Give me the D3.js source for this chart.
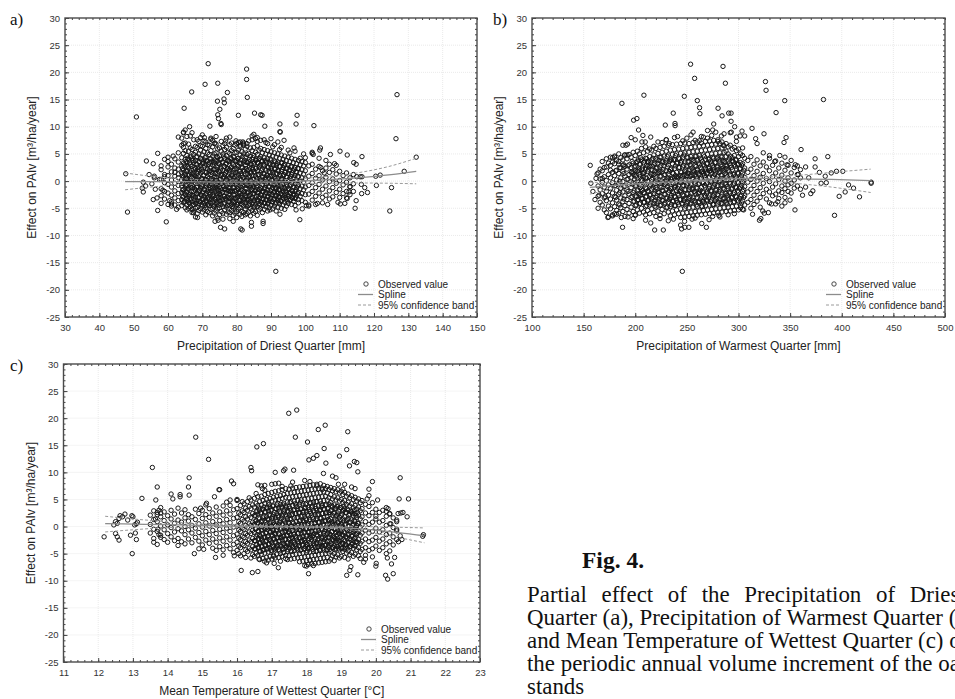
<!DOCTYPE html>
<html>
<head>
<meta charset="utf-8">
<script src="https://cdn.jsdelivr.net/npm/d3@7"></script>
<style>
  body { margin: 0; background: #fff; }
  svg { display: block; }
</style>
</head>
<body>
<svg id="fig" width="955" height="699"></svg>
<script>
// ---- shared axis values ----
const yTicks = [-25, -20, -15, -10, -5, 0, 5, 10, 15, 20, 25, 30];
const driestTicks = [30, 40, 50, 60, 70, 80, 90, 100, 110, 120, 130, 140, 150];
const warmestTicks = [100, 150, 200, 250, 300, 350, 400, 450, 500];
const wettestTicks = [11, 12, 13, 14, 15, 16, 17, 18, 19, 20, 21, 22, 23];
const legendLabels = ['Observed value', 'Spline', '95% confidence band'];
const yTitle = 'Effect on PAIv [m³/ha/year]';

// ---- a) Precipitation of Driest Quarter ----
const driestObs = [[47.7,1.35],[48.2,-5.7],[50.8,11.8],[53.7,3.7],[52.8,-0.2],[52.8,-2.0],[53.5,-0.9],[55.7,3.2],[56,0.9],[56,0.6],[55.7,-3.4],[56.3,-1.5],[57,5.1],[57,-5.4],[56.8,-3.1],[59.5,-7.5],[60,3.6],[61.5,4.6],[63,8.1],[64.7,13.4],[64.5,9.0],[65,9.4],[66.3,10],[66.9,16.4],[70.6,8],[70.8,17.8],[71.7,21.6],[72.2,10.1],[74.5,18.0],[74.4,14.7],[75.1,13.2],[74.5,12.2],[74.7,11.5],[75.4,10.6],[75.5,10.4],[76.3,15.1],[76.4,14.4],[77.3,16.3],[78,8.1],[80.5,12.1],[82.9,20.6],[82.9,18.7],[83.1,15.4],[85.2,12.5],[87,12.2],[87.4,12.1],[88.2,10.1],[92.6,9.1],[92.7,9.0],[92.6,10.5],[93.8,7.5],[96.7,6.1],[97.6,12.1],[97.3,10.5],[102.5,10.2],[98.4,-7.1],[91.4,-16.6],[87.7,-7.4],[87.7,-7.8],[81.2,-8.8],[81.6,-9.0],[79,-7.4],[76.5,-8.8],[75.3,-8.5],[73.7,-7.4],[74.6,-7.2],[67.4,-5.8],[68.6,-6.7],[84.3,-8.3],[84.3,-7.6],[89.7,-5.3],[92.6,-6.1],[97.3,-5.3],[99.1,-5.1],[104.4,6.1],[107.3,4.9],[110.1,5.5],[112.2,4.8],[116.5,4.5],[114.1,3.4],[114.8,3.1],[110.2,-4.2],[111.5,-4.1],[114.5,-5.0],[114.8,-3.6],[118.1,-2.1],[120.7,-0.8],[121.8,1.1],[120.5,0.9],[124.6,-5.5],[125.1,-1.2],[126.4,7.8],[126.7,15.9],[128.8,1.8],[132.3,4.4],[116.3,-0.6],[117.3,-1.2],[116.4,-2.3],[115,0.8],[116,0.8],[116.5,0.8],[113,-1.1],[112.7,-2.0],[112.2,-3.2],[104.2,5.7],[102,5.3],[102.3,4.9],[104.5,2.5],[105.5,1.5],[108.5,3.2],[109.5,-3.9],[106.5,-4.3],[103.5,-4.1],[101,-4.6],[100.3,-4.5],[100,4.3],[62.5,-5.2],[61,-4.2],[60.5,-3.6],[58.5,-1.7],[57.5,0.3],[58,2.8],[59,4.0],[55.3,-0.5],[54.5,1.2],[52.5,-1.3],[81.8,7.2],[83,6.9],[84.5,7.6],[86,7.3],[88.5,7.1],[90.5,6.3],[95.5,5.2],[99.5,5.0],[98.5,4.2],[67,8.9],[68.5,7.6],[69.5,8.0],[72.5,7.9],[73.7,7.0],[76.8,7.4],[79.8,7.4],[81,6.6]];
const driestCore = [
  [58,[2.1,0.3,-1.4,-2.7,-4.1]],[59,[1.2,-0.3,-1.9,-3.3,0.8]],[60,[2.6,1.0,-0.6,-2.2,-4.3,4.4]],[61,[3.1,1.7,0.2,-1.1,-2.6,-3.8,-4.6]],
  [62,[2.4,0.9,-0.4,-1.8,-3.1,1.6,4.1,-4.4]],[63,[3.5,2.2,0.6,-0.8,-2.3,-3.6,5.2,1.3,-4.8]],
  [64,[4.3,2.8,1.5,0.2,-0.9,-2.1,-3.4,-4.5,7.9,6.6]],[64.5,[5.1,3.3,2.0,0.7,-0.5,-1.6,-2.9,-4.0,8.9,6.9,6.2]],
  [65,[4.0,2.6,1.1,-0.2,-1.3,-2.5,-3.7,-4.9,7.0,5.6]],[65.5,[4.7,3.4,1.8,0.5,-0.8,-2.0,-3.2,-4.4,-5.3,8.2]],
  [66,[5.5,3.9,2.4,1.0,-0.3,-1.5,-2.8,-3.9,-5.0,6.8]],[66.5,[4.4,3.0,1.6,0.1,-1.1,-2.4,-3.5,-4.7,8.3,6.1]],
  [67,[5.8,4.1,2.7,1.3,-0.1,-1.2,-2.6,-3.8,-5.2,-5.8]],[67.5,[4.9,3.5,2.1,0.6,-0.6,-1.9,-3.1,-4.3,-5.5,7.6]],
  [68,[5.3,3.8,2.3,0.9,-0.4,-1.7,-2.9,-4.1,-5.0,-6.6,6.4]],[68.5,[6.2,4.5,3.0,1.4,0.2,-1.0,-2.3,-3.6,-4.8,-6.0]],
  [69,[5.0,3.6,2.2,0.8,-0.5,-1.8,-3.0,-4.2,-5.4,7.3]],[69.5,[5.7,4.2,2.9,1.5,0.0,-1.3,-2.5,-3.8,-5.1,6.5]],
  [70,[6.4,4.8,3.2,1.7,0.4,-0.9,-2.2,-3.4,-4.6,-5.7,8.5]],[70.5,[5.4,3.9,2.5,1.1,-0.2,-1.5,-2.7,-4.0,-5.3,7.4]],
  [71,[6.0,4.4,3.1,1.6,0.3,-1.0,-2.4,-3.6,-4.9,-6.2,7.2]],[71.5,[5.2,3.7,2.2,0.8,-0.6,-1.9,-3.2,-4.4,-5.6,6.7]],
  [72,[6.6,4.9,3.4,1.9,0.5,-0.8,-2.1,-3.3,-4.5,-5.8]],[72.5,[5.6,4.1,2.6,1.2,-0.1,-1.4,-2.8,-4.1,-5.2,7.7]],
  [73,[6.3,4.6,3.0,1.5,0.2,-1.1,-2.5,-3.7,-5.0,-6.4,7.5]],[73.5,[5.0,3.5,2.1,0.7,-0.7,-2.0,-3.3,-4.6,-5.9,6.9]],
  [74,[6.8,5.2,3.7,2.2,0.8,-0.5,-1.8,-3.0,-4.3,-5.5,8.2]],[74.5,[5.9,4.3,2.8,1.3,-0.1,-1.3,-2.6,-3.9,-5.1,-6.8]],
  [75,[6.1,4.6,3.1,1.6,0.3,-1.0,-2.3,-3.6,-4.9,-6.2]],[75.5,[5.5,4.0,2.4,1.0,-0.4,-1.7,-3.0,-4.3,-5.6,7.3]],
  [76,[6.5,5.0,3.5,2.0,0.6,-0.8,-2.1,-3.4,-4.7,-5.9,-7.0]],[76.5,[5.8,4.2,2.7,1.2,-0.2,-1.5,-2.8,-4.0,-5.3,6.9]],
  [77,[6.2,4.7,3.2,1.8,0.4,-0.9,-2.2,-3.5,-4.8,-6.1,7.9]],[77.5,[5.3,3.8,2.3,0.9,-0.5,-1.8,-3.1,-4.4,-5.7]],
  [78,[6.7,5.1,3.6,2.1,0.7,-0.6,-1.9,-3.2,-4.5,-5.8,-6.9]],[78.5,[5.6,4.1,2.6,1.1,-0.3,-1.6,-2.9,-4.2,-5.4,7.0]],
  [79,[6.0,4.5,3.0,1.5,0.1,-1.2,-2.5,-3.8,-5.0,-6.3]],[79.5,[5.2,3.7,2.2,0.8,-0.6,-1.9,-3.2,-4.6,-5.9,6.6]],
  [80,[6.9,5.3,3.8,2.3,0.9,-0.4,-1.7,-3.0,-4.3,-5.6,-6.7]],[80.5,[5.7,4.2,2.7,1.3,-0.1,-1.4,-2.7,-4.0,-5.2,7.1]],
  [81,[6.3,4.8,3.3,1.8,0.4,-0.9,-2.3,-3.6,-4.9,-6.1,7.2]],[81.5,[5.4,3.9,2.4,1.0,-0.4,-1.7,-3.0,-4.3,-5.6,-6.5]],
  [82,[6.6,5.0,3.5,2.0,0.6,-0.7,-2.0,-3.3,-4.6,-5.8,7.0,6.8]],[82.5,[5.9,4.4,2.9,1.4,0.0,-1.3,-2.6,-3.9,-5.1,-6.2]],
  [83,[6.4,4.9,3.4,1.9,0.5,-0.8,-2.1,-3.4,-4.7,-6.0]],[83.5,[5.1,3.6,2.1,0.7,-0.7,-2.0,-3.3,-4.5,-5.7,7.4]],
  [84,[6.1,4.6,3.1,1.6,0.2,-1.1,-2.4,-3.7,-5.0,-6.4]],[84.5,[5.6,4.0,2.5,1.1,-0.3,-1.6,-2.9,-4.2,-5.4,8.3]],
  [85,[6.2,4.7,3.2,1.7,0.3,-1.0,-2.3,-3.6,-4.8,-5.9,8.6]],[85.5,[5.3,3.8,2.3,0.9,-0.5,-1.8,-3.1,-4.4,-5.6,7.8]],
  [86,[6.5,4.9,3.4,1.9,0.5,-0.8,-2.1,-3.4,-4.7,-6.3,8.0]],[86.5,[5.7,4.1,2.6,1.2,-0.2,-1.5,-2.8,-4.1,-5.3]],
  [87,[6.0,4.5,3.0,1.5,0.1,-1.2,-2.5,-3.8,-5.0,7.5]],[87.5,[5.2,3.7,2.2,0.8,-0.6,-1.9,-3.2,-4.5,-5.8]],
  [88,[5.8,4.3,2.8,1.3,-0.1,-1.4,-2.7,-4.0,-5.2,7.6]],[88.5,[5.0,3.5,2.0,0.6,-0.8,-2.1,-3.4,-4.7]],
  [89,[5.6,4.1,2.6,1.1,-0.3,-1.6,-2.9,-4.2,-5.5,6.9]],[89.5,[4.8,3.3,1.8,0.4,-1.0,-2.3,-3.6,-4.9]],
  [90,[5.4,3.9,2.4,0.9,-0.5,-1.8,-3.1,-4.4,7.8]],[90.5,[4.6,3.1,1.6,0.2,-1.2,-2.5,-3.8,-5.1]],
  [91,[5.2,3.7,2.2,0.7,-0.7,-2.0,-3.3,-4.6,6.7]],[91.5,[4.4,2.9,1.4,0.0,-1.4,-2.7,-4.0,-5.5]],
  [92,[5.0,3.5,2.0,0.5,-0.9,-2.2,-3.5,-4.8,7.2]],[92.5,[4.2,2.7,1.2,-0.2,-1.6,-2.9,-4.2,5.8]],
  [93,[4.8,3.3,1.8,0.3,-1.1,-2.4,-3.7,-5.0,6.2]],[93.5,[4.0,2.5,1.0,-0.4,-1.8,-3.1,-4.4]],
  [94,[4.6,3.1,1.6,0.1,-1.3,-2.6,-3.9,-5.2]],[94.5,[3.8,2.3,0.8,-0.6,-2.0,-3.3,-4.6]],
  [95,[4.4,2.9,1.4,-0.1,-1.5,-2.8,-4.1,5.7]],[95.5,[3.6,2.1,0.6,-0.8,-2.2,-3.5]],
  [96,[4.2,2.7,1.2,-0.3,-1.7,-3.0,-4.3]],[96.5,[3.4,1.9,0.4,-1.0,-2.4,-3.7]],
  [97,[4.0,2.5,1.0,-0.5,-1.9,-3.2,-4.5,5.5]],[97.5,[3.2,1.7,0.2,-1.2,-2.6]],
  [98,[3.8,2.3,0.8,-0.7,-2.1,-3.4,-4.0]],[98.5,[3.0,1.5,0.0,-1.4,-2.8]],
  [99,[3.6,2.1,0.6,-0.9,-2.3,-3.6]],[99.5,[2.8,1.3,-0.2,-1.6]],[100,[3.4,1.9,0.4,-1.1,-2.5,-3.9]],
  [101,[2.8,0.9,-0.8,-2.4,-4.4]],[102,[3.1,1.4,-0.3,-1.9,-3.5,5.1]],[103,[2.2,0.5,-1.2,-2.8,-4.3]],
  [104,[2.7,1.0,-0.6,-2.2,4.2]],[105,[1.9,0.2,-1.5,-3.0,-4.0]],[106,[2.4,0.7,-0.9,-2.6,3.8]],
  [107,[1.6,-0.1,-1.8,-3.3,3.1]],[108,[2.1,0.4,-1.2,-2.9]],[109,[1.3,-0.4,-2.1,2.9]],
  [110,[1.8,0.1,-1.5,-3.0]],[111,[1.0,-0.7,-2.3]],[112,[1.5,-0.2,-1.9,-3.1]],[113,[0.6,-1.0,-2.5]],[114,[1.2,-0.5,-1.9]]
];
const driestInner = [
  [64.25,[2.3,-0.4,-2.9,0.9,-1.6]],[64.75,[3.0,0.4,-2.2,-3.8,1.6]],[65.25,[1.9,-0.9,-3.3,0.6,-2.0,3.6]],[65.75,[2.7,0.1,-1.3,-3.6,4.2]],
  [66.25,[3.4,1.2,-0.6,-2.5,-4.1]],[66.75,[2.0,-0.2,-1.9,-3.2,0.8,4.6]],[67.25,[3.8,1.5,-0.9,-2.7,-4.4]],[67.75,[2.5,0.3,-1.4,-3.5,1.1]],
  [68.25,[3.1,0.7,-1.1,-2.3,-4.0,4.4]],[68.75,[1.8,-0.4,-2.0,-3.0,2.6]],[69.25,[3.5,1.9,-0.2,-1.7,-3.8]],[69.75,[2.2,0.5,-1.0,-2.6,-4.3,3.9]],
  [70.25,[3.3,1.0,-0.7,-2.0,-3.4]],[70.75,[2.8,0.2,-1.6,-3.1,-4.5,4.3]],[71.25,[1.6,-0.5,-2.3,-3.7,3.7]],[71.75,[3.0,1.3,-0.3,-1.5,-2.9,-4.2]],
  [72.25,[2.4,0.0,-1.2,-2.4,-3.9,4.1]],[72.75,[3.6,1.7,0.4,-1.8,-3.3]],[73.25,[2.1,-0.3,-1.5,-2.8,-4.6,3.4]],[73.75,[3.9,1.4,0.1,-1.1,-3.4]],
  [74.25,[2.6,0.6,-0.8,-2.2,-4.0,4.5]],[74.75,[3.2,1.8,-0.2,-1.7,-3.0,-4.4]],[75.25,[2.0,0.3,-1.3,-2.6,-3.7,4.0]],[75.75,[3.5,1.2,-0.4,-2.1,-3.5]],
  [76.25,[2.7,0.8,-1.0,-2.7,-4.2,4.6]],[76.75,[3.1,1.5,0.0,-1.4,-3.2]],[77.25,[2.2,0.2,-1.6,-2.9,-4.5,3.8]],[77.75,[3.7,1.9,0.5,-1.2,-2.4,-3.8]],
  [78.25,[2.4,-0.1,-1.9,-3.3,4.2]],[78.75,[3.3,1.1,-0.5,-2.0,-3.6,-4.7]],[79.25,[2.0,0.6,-1.2,-2.5,-4.0,4.4]],[79.75,[3.6,1.6,-0.1,-1.6,-3.1]],
  [80.25,[2.9,0.4,-1.4,-2.9,-4.3,4.1]],[80.75,[1.8,-0.3,-2.1,-3.6,3.3]],[81.25,[3.2,1.4,0.2,-1.1,-2.6,-4.1]],[81.75,[2.5,0.7,-0.9,-2.4,-3.8,4.5]],
  [82.25,[3.8,1.8,-0.2,-1.9,-3.3]],[82.75,[2.3,0.1,-1.5,-3.0,-4.4,3.5]],[83.25,[3.4,1.3,-0.6,-2.2,-3.6]],[83.75,[2.6,0.9,-0.8,-2.7,-4.2,4.0]],
  [84.25,[3.0,1.5,0.0,-1.5,-3.2]],[84.75,[2.1,0.3,-1.3,-2.3,-3.9,4.3]],[85.25,[3.5,1.7,-0.4,-1.8,-3.5,-4.6]],[85.75,[2.4,0.6,-1.1,-2.8,3.9]],
  [86.25,[3.3,1.2,-0.3,-2.0,-3.7]],[86.75,[2.8,0.5,-1.6,-3.1,-4.3,4.2]],[87.25,[1.9,-0.1,-1.4,-2.6,-3.9,3.6]],[87.75,[3.1,1.4,0.2,-1.9,-3.4]],
  [88.25,[2.2,0.4,-1.2,-2.4,-4.1,3.8]],[88.75,[3.4,1.0,-0.5,-2.2,-3.5]],[89.25,[2.5,0.7,-1.0,-2.8,-4.0]],[89.75,[3.0,1.6,-0.2,-1.7,-3.2,4.1]],
  [90.25,[2.0,0.2,-1.5,-2.5,-3.8]],[90.75,[2.9,1.1,-0.7,-2.1,-3.4]],[91.25,[2.3,0.5,-1.1,-2.7,-4.2,3.5]],[91.75,[3.2,1.3,-0.4,-1.9,-3.1]],
  [92.25,[1.8,0.0,-1.6,-2.9,-3.9]],[92.75,[2.7,0.9,-0.8,-2.3,-3.6]],[93.25,[2.1,0.4,-1.3,-2.6,3.4]],[93.75,[2.9,1.2,-0.5,-2.0,-3.3]],
  [94.25,[1.6,-0.2,-1.8,-3.0]],[94.75,[2.4,0.7,-1.0,-2.5,-3.7]],[95.25,[1.9,0.2,-1.4,-2.8]],[95.75,[2.6,0.9,-0.7,-2.2,-3.4]],
  [96.25,[1.5,-0.1,-1.9,-3.1]],[96.75,[2.2,0.6,-1.2,-2.6]],[97.25,[1.7,0.0,-1.6,-3.0]],[97.75,[2.3,0.8,-0.9,-2.3]]
];
const driestFitX = [47.5, 55, 65, 75, 85, 95, 105, 115, 125, 132.3];
const driestFitMid = [-0.1, -0.1, -0.1, -0.2, -0.2, -0.1, 0.2, 0.6, 1.2, 1.8];
const driestFitUp = [1.5, 0.9, 0.4, 0.2, 0.15, 0.3, 0.8, 1.5, 2.8, 4.2];
const driestFitLo = [-1.6, -1.1, -0.6, -0.55, -0.55, -0.5, -0.4, -0.35, -0.4, -0.5];

// ---- b) Precipitation of Warmest Quarter ----
const warmestObs = [[156.4,2.9],[157,-0.4],[161,-3.4],[168,0.5],[187.1,14.3],[187.7,-8.5],[173.5,-6.7],[178,-6.4],[182,-6.1],[186.5,-6.7],[189.7,4.8],[192,4.8],[188,6.6],[191,6.6],[192.5,6.8],[198.4,11.2],[201.6,11.5],[203.2,9.4],[208.4,15.8],[207.4,8.4],[206.5,7.2],[209.7,7.2],[218.8,-9.0],[227.2,-9.0],[229.1,10.3],[236.8,12.5],[238.5,10.6],[238.6,10.2],[253.6,21.5],[257.5,18.9],[247.5,15.6],[260.1,14.8],[262.3,13.5],[262.6,12.4],[243.9,-8.1],[244.9,-8.8],[248,-8.5],[251.9,-8.5],[247.8,-7.4],[245.6,-16.6],[264.4,-7.8],[268.9,-8.5],[271.5,-7.1],[276,10.5],[280.2,13.4],[283.4,8.3],[284.1,12.0],[285.3,6.6],[285,21.1],[287.3,18.0],[290.5,12.5],[292.8,12.5],[292.8,11.0],[296.3,10.0],[303.4,9.2],[301.5,8.3],[306,8.3],[313.1,9.7],[316.6,7.8],[318,6.9],[324.7,8.7],[326.1,18.3],[326.7,16.7],[336.4,12.6],[344.8,14.8],[346.1,8.0],[344.1,7.1],[360.6,5.8],[382.3,15.0],[386.5,4.5],[374.2,4.1],[374.2,2.6],[378.4,1.6],[389.8,1.5],[394.9,1.8],[401,1.8],[393,-6.3],[397.5,-2.8],[403.3,-2.0],[406.6,-0.7],[411.4,-1.3],[417.2,-2.9],[428.5,-0.2],[428.5,-0.4],[354.7,-5.3],[349.9,-3.5],[345,-4.0],[328.9,-5.8],[323.5,-5.5],[325,-5.9],[320.3,-7.2],[321.6,-6.9],[313.6,-6.1],[302,-4.9],[305,-5.3],[365,-1.1],[368,0.6],[372,-1.8],[380,-0.4],[385,-0.3],[384,0.9],[362,-2.6],[358,1.2],[355,3.0],[365,2.6],[370,-2.3],[340,4.7],[335,3.6],[330,4.7],[347,3.0],[338,-3.8],[342,-4.6],[332,-4.2],[215,8.1],[222,7.2],[230,7.6],[233,6.9],[196,8.0],[200,7.6],[241,8.2],[246,7.4],[254,8.5],[256,9.0],[264,8.2],[270,9.3],[275,9.4],[280,7.3],[293,9.0],[298,8.1],[210,-7.2],[215,-7.7],[224,-6.9],[232,-7.3],[237,-7.0],[255,-7.0],[258,-6.8],[275,-6.5],[281,-6.3],[290,-6.2],[296,-6.0],[198,-6.9],[193,-6.6],[200,-6.2],[162,0.5],[159,-1.9],[165,-2.6],[163,1.3],[171,-2.9],[176,2.0],[178,4.3],[180,4.4],[184,3.1],[185,-4.4]];
const warmestCore = [
  [164,[1.5,-0.9,-2.8,-5.0]],[166,[0.4,-1.6,2.2,-3.9]],[168,[1.9,-0.2,-2.3,-4.4,3.6]],[170,[0.8,-1.1,-3.1,2.5,-5.3]],
  [172,[2.6,0.1,-1.9,-3.6,-5.8,4.1]],[174,[1.2,-0.7,-2.6,-4.6,3.3,-6.6]],[176,[2.9,0.6,-1.4,-3.3,-5.1,4.4]],
  [178,[1.6,-0.3,-2.2,-4.0,3.5,-6.2]],[180,[3.2,1.0,-0.9,-2.8,-4.7,4.6,-6.0]],[182,[2.0,0.2,-1.7,-3.5,-5.4,3.9]],
  [184,[3.6,1.4,-0.5,-2.4,-4.2,-5.9,5.0]],[186,[2.4,0.6,-1.3,-3.1,-4.9,4.3]],[188,[3.9,1.8,-0.1,-2.0,-3.8,-5.6,2.9]],
  [190,[2.7,0.9,-0.9,-2.7,-4.5,4.8,-6.5]],[192,[4.1,2.2,0.3,-1.6,-3.4,-5.2]],[194,[3.0,1.2,-0.6,-2.4,-4.1,-5.9,4.9]],
  [196,[4.4,2.5,0.6,-1.2,-3.0,-4.8,1.6]],[198,[3.3,1.5,-0.3,-2.1,-3.8,-5.6,5.3]],[200,[4.7,2.8,0.9,-0.9,-2.7,-4.5,-6.3,1.9]],
  [202,[3.6,1.8,0.0,-1.8,-3.5,-5.3,5.5]],[204,[5.0,3.1,1.2,-0.6,-2.4,-4.2,-5.9,2.2]],[206,[3.9,2.1,0.3,-1.5,-3.2,-5.0,6.0]],
  [208,[5.2,3.4,1.5,-0.3,-2.1,-3.9,-5.7,0.7]],[210,[4.2,2.4,0.6,-1.2,-2.9,-4.7,-6.2,6.3]],[212,[5.5,3.6,1.8,0.0,-1.8,-3.6,-5.4,2.7]],
  [214,[4.5,2.7,0.9,-0.9,-2.6,-4.4,-6.0,5.9]],[216,[5.7,3.9,2.1,0.3,-1.5,-3.3,-5.1,1.2]],[218,[4.8,3.0,1.2,-0.6,-2.3,-4.1,-5.8,6.4]],
  [220,[6.0,4.2,2.4,0.6,-1.2,-3.0,-4.8,-6.5,1.5]],[222,[5.1,3.3,1.5,-0.3,-2.0,-3.8,-5.5]],[224,[6.2,4.4,2.6,0.9,-0.9,-2.7,-4.5,-6.3,1.8]],
  [226,[5.3,3.5,1.7,0.0,-1.7,-3.5,-5.2,7.1]],[228,[6.4,4.6,2.8,1.1,-0.6,-2.4,-4.2,-6.0,-0.1]],[230,[5.5,3.7,1.9,0.2,-1.5,-3.2,-4.9,7.6]],
  [232,[6.6,4.8,3.0,1.3,-0.4,-2.1,-3.9,-5.7,0.4]],[234,[5.7,3.9,2.1,0.4,-1.3,-3.0,-4.7,-6.4]],[236,[6.7,4.9,3.2,1.5,-0.2,-1.9,-3.7,-5.5,0.6]],
  [238,[5.8,4.0,2.3,0.6,-1.1,-2.8,-4.5,-6.2,8.0]],[240,[6.8,5.0,3.3,1.6,-0.1,-1.8,-3.5,-5.3,0.8]],[242,[5.9,4.2,2.5,0.8,-0.9,-2.6,-4.3,-6.0]],
  [244,[6.9,5.1,3.4,1.7,0.0,-1.7,-3.4,-5.1,-6.7,1.0]],[246,[6.0,4.3,2.6,0.9,-0.8,-2.5,-4.2,-5.9]],[248,[7.0,5.2,3.5,1.8,0.1,-1.6,-3.3,-5.0,-6.6,1.2]],
  [250,[6.1,4.4,2.7,1.0,-0.7,-2.4,-4.1,-5.8,7.9]],[252,[6.9,5.3,3.6,1.9,0.2,-1.5,-3.2,-4.9,-6.5,1.4]],[254,[6.2,4.5,2.8,1.1,-0.6,-2.3,-4.0,-5.7]],
  [256,[7.1,5.4,3.7,2.0,0.3,-1.4,-3.1,-4.8,-6.4,1.5]],[258,[6.3,4.6,2.9,1.2,-0.5,-2.2,-3.9,-5.6,7.5]],[260,[7.2,5.5,3.8,2.1,0.4,-1.3,-3.0,-4.7,-6.3,1.6]],
  [262,[6.4,4.7,3.0,1.3,-0.4,-2.1,-3.8,-5.5,7.4]],[264,[7.0,5.6,3.9,2.2,0.5,-1.2,-2.9,-4.6,-6.2,1.7]],[266,[6.5,4.8,3.1,1.4,-0.3,-2.0,-3.7,-5.4,8.1]],
  [268,[7.3,5.7,4.0,2.3,0.6,-1.1,-2.8,-4.5,-6.1,1.8]],[270,[6.6,4.9,3.2,1.5,-0.2,-1.9,-3.6,-5.3,7.9]],[272,[7.4,5.8,4.1,2.4,0.7,-1.0,-2.7,-4.4,-6.0,1.9]],
  [274,[6.7,5.0,3.3,1.6,-0.1,-1.8,-3.5,-5.2,8.4]],[276,[7.5,5.9,4.2,2.5,0.8,-0.9,-2.6,-4.3,-5.9,2.0]],[278,[6.8,5.1,3.4,1.7,0.0,-1.7,-3.4,-5.1,9.0]],
  [280,[7.6,6.0,4.3,2.6,0.9,-0.8,-2.5,-4.2,-5.8,2.1]],[282,[6.9,5.2,3.5,1.8,0.1,-1.6,-3.3,-5.0,-6.6]],[284,[7.2,6.1,4.4,2.7,1.0,-0.7,-2.4,-4.1,-5.7,2.2]],
  [286,[6.5,5.3,3.6,1.9,0.2,-1.5,-3.2,-4.9,8.7]],[288,[6.9,5.5,4.5,2.8,1.1,-0.6,-2.3,-4.0,-5.6,2.3]],[290,[6.3,5.0,3.7,2.0,0.3,-1.4,-3.1,-4.8]],
  [292,[6.6,4.6,2.9,1.2,-0.5,-2.2,-3.9,-5.5,8.9]],[294,[5.9,4.3,3.8,2.1,0.4,-1.3,-3.0,-4.7]],[296,[6.2,4.7,3.0,1.3,-0.4,-2.1,-3.8,-5.4]],
  [298,[5.6,3.9,2.2,0.5,-1.2,-2.9,-4.6,7.3]],[300,[5.9,4.5,3.1,1.4,-0.3,-2.0,-3.7,-5.3]],[302,[5.0,3.4,2.3,0.6,-1.1,-2.8,-4.5]],
  [304,[4.7,3.2,1.5,-0.2,-1.9,-3.6,-5.2,6.1]],[306,[4.2,2.4,0.7,-1.0,-2.7,-4.4]],
  [309,[3.8,1.6,-0.2,-2.0,-3.9]],[312,[4.5,2.2,0.3,-1.5,-3.4,-5.0]],[315,[3.1,1.0,-0.8,-2.6,-4.3]],[318,[3.9,1.8,0.0,-1.9,-3.7]],
  [321,[2.8,0.7,-1.2,-3.0,-4.8]],[324,[3.5,1.4,-0.4,-2.3,5.2]],[327,[2.6,0.5,-1.5,-3.3]],[330,[4.2,1.9,-0.1,-2.0,-4.0]],
  [333,[2.9,0.8,-1.1,-2.7]],[336,[3.7,1.5,-0.5,-2.4,-4.2]],[339,[2.4,0.3,-1.8,-3.2]],[342,[3.3,1.1,-0.9,-2.1]],
  [345,[2.0,0.0,-1.4,-3.0,4.4]],[348,[2.9,0.6,-0.7,-1.9]],[351,[1.5,-0.4,-2.2,3.8]],[354,[2.5,0.2,-1.3]],[357,[1.2,-0.9,2.8]],[360,[0.6,-1.5,2.1]]
];
const warmestInner = [
  [181,[1.9,-0.8,-3.0]],[185,[2.5,0.0,-2.1]],[189,[1.4,-1.0,-3.3,3.0]],[193,[2.8,0.4,-1.9]],[197,[1.7,-0.6,-2.8,3.6]],
  [199,[2.6,0.3,-1.8,-3.7,1.2]],[201,[3.4,1.1,-0.9,-2.9,-4.4]],[203,[2.0,-0.2,-2.3,-3.4,3.9]],[205,[3.1,0.8,-1.2,-2.6,-4.1,4.3]],
  [207,[2.4,0.1,-1.7,-3.2,1.4]],[209,[3.7,1.6,-0.5,-2.2,-3.9]],[211,[2.9,0.5,-1.4,-2.8,-4.5,4.1]],[213,[2.2,-0.1,-1.9,-3.5,3.5]],
  [215,[3.5,1.3,-0.7,-2.5,-4.0]],[217,[2.7,0.6,-1.1,-3.0,4.2]],[219,[3.2,1.9,-0.3,-1.8,-3.6,-4.6]],[221,[2.4,0.2,-1.5,-2.7,-4.2,3.9]],
  [223,[3.8,1.5,-0.4,-2.1,-3.3]],[225,[2.9,0.9,-1.2,-2.9,-4.4,4.4]],[227,[2.1,-0.3,-1.8,-3.6,3.6]],[229,[3.4,1.2,-0.6,-2.4,-4.0]],
  [231,[2.6,0.6,-1.0,-3.1,4.5,-4.8]],[233,[3.6,1.8,-0.1,-1.7,-3.4]],[235,[2.3,0.4,-1.4,-2.6,-4.3,3.9]],[237,[3.9,1.4,-0.5,-2.2,-3.7]],
  [239,[2.8,1.0,-0.9,-2.9,-4.5,4.7]],[241,[3.3,0.7,-1.3,-2.4,-3.9]],[243,[2.5,-0.2,-1.9,-3.4,4.1]],[245,[3.7,1.6,-0.3,-2.0,-4.1]],
  [247,[2.9,1.1,-0.8,-2.7,-3.6,4.8]],[249,[2.2,0.3,-1.6,-3.2,-4.6]],[251,[3.5,1.5,-0.4,-2.3,-3.8,4.3]],[253,[3.0,0.9,-1.1,-2.8,-4.2]],
  [255,[2.4,0.5,-1.5,-3.5,4.0]],[257,[3.8,1.8,-0.2,-1.9,-3.6]],[259,[2.7,0.8,-1.2,-2.5,-4.4,4.6]],[261,[3.3,1.3,-0.6,-2.2,-3.9]],
  [263,[2.5,0.4,-1.7,-3.3,4.2]],[265,[3.6,1.7,-0.3,-2.0,-3.7,-4.7]],[267,[2.8,1.0,-0.8,-2.6,-4.0,4.5]],[269,[3.2,1.4,-0.5,-2.3,-3.5]],
  [271,[2.3,0.6,-1.4,-3.1,4.0]],[273,[3.7,1.9,0.0,-1.8,-3.8]],[275,[2.9,0.7,-1.1,-2.7,-4.3,4.4]],[277,[3.4,1.2,-0.6,-2.4,-3.6]],
  [279,[2.6,0.4,-1.6,-3.2,4.1]],[281,[3.9,1.6,-0.2,-1.9,-3.9]],[283,[3.0,1.1,-0.9,-2.8,-4.1,4.6]],[285,[2.4,0.5,-1.3,-3.3,3.8]],
  [287,[3.5,1.4,-0.4,-2.2,-3.7]],[289,[2.8,0.8,-1.0,-2.6,-4.2]],[291,[3.2,1.7,-0.3,-2.0,-3.4,4.2]],[293,[2.5,0.3,-1.5,-3.0]],
  [295,[3.6,1.2,-0.7,-2.4,-3.9]],[297,[2.7,0.9,-1.1,-2.8,3.9]],[299,[3.1,1.5,-0.2,-1.8,-3.5]],[301,[2.3,0.5,-1.3,-3.2]],
  [303,[2.9,1.0,-0.8,-2.6,-4.0]],[305,[2.0,0.2,-1.6,-3.0]]
];
const warmestFitX = [156, 180, 210, 240, 270, 300, 330, 360, 390, 428];
const warmestFitMid = [-1.15, -0.8, -0.4, -0.1, 0.2, 0.45, 0.5, 0.4, 0.3, 0.1];
const warmestFitUp = [-0.2, -0.3, -0.05, 0.15, 0.45, 0.75, 0.85, 1.1, 1.6, 2.2];
const warmestFitLo = [-2.4, -1.4, -0.75, -0.35, -0.05, 0.15, 0.0, -0.5, -1.1, -2.1];

// ---- c) Mean Temperature of Wettest Quarter ----
const wettestObs = [[12.17,-1.9],[12.5,0.9],[12.55,0.6],[12.6,1.5],[12.63,2.0],[12.7,1.8],[12.77,2.3],[12.85,1.2],[12.5,-1.3],[12.55,-1.9],[12.6,-2.5],[12.45,0.3],[12.97,2.0],[13.0,1.8],[12.98,-5.0],[13.05,0.3],[13.1,0.5],[13.13,0.8],[12.93,-1.6],[13.07,-1.2],[13.1,-2.4],[13.26,5.2],[13.56,10.9],[13.6,-2.9],[13.66,4.9],[13.7,7.3],[13.75,3.0],[13.8,2.5],[13.7,2.2],[13.65,1.4],[13.72,-0.5],[13.75,-1.5],[13.8,-2.0],[14.36,5.9],[14.36,5.5],[14.62,9.0],[14.6,7.3],[14.62,5.8],[14.77,-5.0],[14.81,16.5],[15.18,12.4],[15.04,-4.2],[15.38,-5.7],[15.48,6.8],[15.6,-5.3],[15.84,8.4],[15.9,7.9],[15.92,-5.4],[16.12,-8.1],[16.4,10.9],[16.42,10.3],[16.44,-8.5],[16.6,-8.3],[16.57,14.7],[16.76,15.3],[16.6,7.7],[16.7,7.5],[16.8,7.6],[16.73,7.0],[16.63,-6.0],[16.79,-6.4],[16.85,-6.7],[17.07,-6.8],[17.19,-7.6],[17.34,10.3],[17.38,10.6],[17.49,20.9],[17.72,21.5],[17.68,16.5],[17.63,10.4],[17.4,-5.9],[18.03,15.6],[18.07,12.3],[18.2,12.6],[18.3,13.1],[18.34,17.9],[18.54,18.7],[18.51,14.4],[18.56,11.7],[18.49,9.8],[18.95,13.0],[19.19,17.5],[19.16,14.2],[19.24,11.2],[19.38,12.0],[19.45,11.8],[19.48,10.1],[18.75,9.3],[18.85,9.0],[18.92,7.8],[18.06,-8.7],[18.0,-7.3],[18.1,-6.2],[18.2,-7.2],[19.16,-9.0],[19.25,-8.1],[19.28,-7.4],[19.48,-8.9],[20.0,-7.3],[20.01,-6.8],[20.28,-9.0],[20.34,-9.7],[20.5,-8.7],[20.3,-5.0],[20.33,-5.8],[20.54,-5.7],[20.45,-6.9],[19.9,8.3],[19.8,6.9],[20.05,4.9],[20.3,3.5],[20.35,3.3],[20.4,2.4],[20.64,2.4],[20.78,2.6],[20.9,1.8],[20.67,5.1],[20.7,9.0],[20.94,5.1],[20.72,2.5],[21.37,-1.5],[21.35,-1.8],[20.43,0.5],[20.6,-0.8],[20.7,-1.7],[20.75,-2.4],[20.65,-2.8],[14.1,6.0],[14.15,5.1],[15.5,6.8],[15.35,5.5],[15.12,4.3],[14.95,3.4],[15.8,4.9],[16.0,5.0],[17.05,-5.5],[19.7,-6.0],[19.55,-5.9],[19.65,-6.6],[19.8,5.7],[19.75,5.1],[17.1,10.0],[17.55,7.5],[17.6,8.2],[17.95,8.5],[18.1,8.3],[18.3,7.5],[18.45,6.8],[19.05,6.9],[19.4,7.0],[19.1,7.8],[19.3,7.3]];
const wettestCore = [
  [13.5,[0.4,-1.2,2.1]],[13.6,[-0.5,1.3,-2.2,2.9]],[13.7,[0.9,-0.9,2.6,-3.3]],[13.8,[0.1,1.8,-1.6,3.5]],[13.9,[1.1,-0.6,-2.4,2.7]],
  [14.0,[0.3,-1.3,2.0,-2.9]],[14.1,[1.4,-0.2,-1.9,3.0]],[14.2,[0.6,-1.0,2.3,-2.6]],[14.3,[-0.4,1.2,-2.2,3.4,-3.5]],[14.4,[0.8,-0.8,2.5,-2.8]],
  [14.5,[0.0,1.6,-1.5,3.1,-3.2]],[14.6,[1.0,-0.6,-2.3,2.2]],[14.7,[0.2,1.8,-1.2,-3.0]],[14.8,[1.3,-0.3,-2.0,3.2]],[14.9,[0.5,-1.1,2.4,-2.7,-4.1]],
  [15.0,[1.5,-0.1,-1.7,3.0,-3.4]],[15.1,[0.7,-0.9,2.2,-2.5,4.0]],[15.2,[1.7,0.1,-1.5,-3.1,3.3]],[15.3,[0.9,-0.7,2.5,-2.3,-4.0]],
  [15.4,[1.9,0.3,-1.3,-2.9,3.6,-4.4]],[15.5,[1.1,-0.5,2.7,-2.1,-3.7]],[15.6,[2.1,0.5,-1.1,-2.7,3.8,-4.3]],[15.7,[1.3,-0.3,2.9,-1.9,-3.5,4.5]],
  [15.8,[2.3,0.7,-0.9,-2.5,-4.1,3.9]],[15.9,[1.5,-0.1,3.1,-1.7,-3.3,-4.8]],
  [16.0,[3.3,1.7,0.1,-1.4,-2.9,-4.4,4.8]],[16.05,[2.5,0.9,-0.6,-2.1,-3.6,-5.0]],[16.1,[3.9,2.2,0.6,-0.9,-2.4,-3.9,-5.4]],
  [16.15,[2.9,1.3,-0.3,-1.8,-3.3,4.6]],[16.2,[4.2,2.6,1.0,-0.5,-2.0,-3.5,-5.0]],[16.25,[3.4,1.8,0.2,-1.3,-2.8,-4.3,-5.7]],
  [16.3,[4.6,3.0,1.4,-0.1,-1.6,-3.1,-4.6]],[16.35,[3.7,2.1,0.5,-1.0,-2.5,-4.0,5.3]],[16.4,[4.9,3.3,1.7,0.2,-1.3,-2.8,-4.3,-5.8]],
  [16.45,[4.0,2.4,0.8,-0.7,-2.2,-3.7,-5.2]],[16.5,[5.2,3.6,2.0,0.4,-1.1,-2.6,-4.1,-5.5]],[16.55,[4.3,2.7,1.1,-0.4,-1.9,-3.4,-4.9,6.1]],
  [16.6,[5.5,3.9,2.3,0.7,-0.8,-2.3,-3.8,-5.3]],[16.65,[4.6,3.0,1.4,-0.1,-1.6,-3.1,-4.6,-6.1]],[16.7,[5.6,4.0,2.5,0.9,-0.6,-2.1,-3.6,-5.1]],
  [16.75,[4.8,3.2,1.6,0.1,-1.4,-2.9,-4.4,-5.9]],[16.8,[5.9,4.3,2.7,1.1,-0.4,-1.9,-3.4,-4.9,6.7]],[16.85,[5.0,3.4,1.8,0.3,-1.2,-2.7,-4.2,-5.7]],
  [16.9,[6.1,4.5,2.9,1.3,-0.2,-1.7,-3.2,-4.7,-6.2]],[16.95,[5.2,3.6,2.0,0.5,-1.0,-2.5,-4.0,-5.5]],[17.0,[6.3,4.7,3.1,1.5,0.0,-1.5,-3.0,-4.5,-6.0,7.8]],
  [17.05,[5.4,3.8,2.2,0.7,-0.8,-2.3,-3.8,-5.3]],[17.1,[6.5,4.9,3.3,1.7,0.2,-1.3,-2.8,-4.3,-5.8,7.9]],[17.15,[5.6,4.0,2.4,0.9,-0.6,-2.1,-3.6,-5.1]],
  [17.2,[6.6,5.0,3.4,1.8,0.3,-1.2,-2.7,-4.2,-5.7,8.0]],[17.25,[5.7,4.1,2.5,1.0,-0.5,-2.0,-3.5,-5.0,-6.4]],[17.3,[6.8,5.2,3.6,2.0,0.5,-1.0,-2.5,-4.0,-5.5,7.4]],
  [17.35,[5.9,4.3,2.7,1.2,-0.3,-1.8,-3.3,-4.8]],[17.4,[7.0,5.4,3.8,2.2,0.7,-0.8,-2.3,-3.8,-5.3]],[17.45,[6.1,4.5,2.9,1.4,-0.1,-1.6,-3.1,-4.6,-6.1]],
  [17.5,[6.9,5.3,3.7,2.1,0.6,-0.9,-2.4,-3.9,-5.4]],[17.55,[6.2,4.6,3.0,1.5,0.0,-1.5,-3.0,-4.5,-6.0]],[17.6,[7.1,5.5,3.9,2.3,0.8,-0.7,-2.2,-3.7,-5.2]],
  [17.65,[6.3,4.7,3.1,1.6,0.1,-1.4,-2.9,-4.4,-5.9]],[17.7,[7.2,5.6,4.0,2.4,0.9,-0.6,-2.1,-3.6,-5.1]],[17.75,[6.4,4.8,3.2,1.7,0.2,-1.3,-2.8,-4.3,-5.8]],
  [17.8,[7.3,5.7,4.1,2.5,1.0,-0.5,-2.0,-3.5,-5.0,-6.5]],[17.85,[6.5,4.9,3.3,1.8,0.3,-1.2,-2.7,-4.2,-5.7]],[17.9,[7.4,5.8,4.2,2.6,1.1,-0.4,-1.9,-3.4,-4.9,-6.4]],
  [17.95,[6.6,5.0,3.4,1.9,0.4,-1.1,-2.6,-4.1,-5.6,-7.2]],[18.0,[7.5,5.9,4.3,2.7,1.2,-0.3,-1.8,-3.3,-4.8,-6.3]],[18.05,[6.7,5.1,3.5,2.0,0.5,-1.0,-2.5,-4.0,-5.5,-7.0]],
  [18.1,[7.6,6.0,4.4,2.8,1.3,-0.2,-1.7,-3.2,-4.7,-6.2]],[18.15,[6.8,5.2,3.6,2.1,0.6,-0.9,-2.4,-3.9,-5.4,-6.9]],[18.2,[7.7,6.1,4.5,2.9,1.4,-0.1,-1.6,-3.1,-4.6,-6.1]],
  [18.25,[6.9,5.3,3.7,2.2,0.7,-0.8,-2.3,-3.8,-5.3,-6.8]],[18.3,[7.8,6.2,4.6,3.0,1.5,0.0,-1.5,-3.0,-4.5,-6.0]],[18.35,[7.0,5.4,3.8,2.3,0.8,-0.7,-2.2,-3.7,-5.2,-6.7]],
  [18.4,[7.9,6.3,4.7,3.1,1.6,0.1,-1.4,-2.9,-4.4,-5.9]],[18.45,[7.1,5.5,3.9,2.4,0.9,-0.6,-2.1,-3.6,-5.1,-6.6]],[18.5,[7.6,6.4,4.8,3.2,1.7,0.2,-1.3,-2.8,-4.3,-5.8]],
  [18.55,[7.0,5.6,4.0,2.5,1.0,-0.5,-2.0,-3.5,-5.0,-6.5]],[18.6,[7.4,6.2,4.9,3.3,1.8,0.3,-1.2,-2.7,-4.2,-5.7]],[18.65,[6.8,5.3,4.1,2.6,1.1,-0.4,-1.9,-3.4,-4.9,-6.4]],
  [18.7,[7.2,5.9,4.4,2.9,1.4,-0.1,-1.6,-3.1,-4.6,-6.0]],[18.75,[6.6,5.1,3.6,2.1,0.6,-0.9,-2.4,-3.9,-5.4]],[18.8,[7.0,5.5,4.0,2.5,1.0,-0.5,-2.0,-3.5,-5.0,-6.3]],
  [18.85,[6.4,4.9,3.4,1.9,0.4,-1.1,-2.6,-4.1,-5.6]],[18.9,[6.8,5.3,3.8,2.3,0.8,-0.7,-2.2,-3.7,-5.2]],[18.95,[6.2,4.7,3.2,1.7,0.2,-1.3,-2.8,-4.3,-5.8]],
  [19.0,[6.5,5.0,3.5,2.0,0.5,-1.0,-2.5,-4.0,-5.5]],[19.05,[5.9,4.4,2.9,1.4,-0.1,-1.6,-3.1,-4.6]],[19.1,[6.3,4.8,3.3,1.8,0.3,-1.2,-2.7,-4.2,-5.7]],
  [19.15,[5.6,4.1,2.6,1.1,-0.4,-1.9,-3.4,-4.9]],[19.2,[6.0,4.5,3.0,1.5,0.0,-1.5,-3.0,-4.5,-6.0]],[19.25,[5.3,3.8,2.3,0.8,-0.7,-2.2,-3.7,-5.2]],
  [19.3,[5.7,4.2,2.7,1.2,-0.3,-1.8,-3.3,-4.8]],[19.35,[5.0,3.5,2.0,0.5,-1.0,-2.5,-4.0,-5.5]],[19.4,[5.4,3.9,2.4,0.9,-0.6,-2.1,-3.6,-5.1]],
  [19.45,[4.7,3.2,1.7,0.2,-1.3,-2.8,-4.3]],[19.5,[5.1,3.6,2.1,0.6,-0.9,-2.4,-3.9,-5.4]],[19.55,[4.4,2.9,1.4,-0.1,-1.6,-3.1,-4.6]],
  [19.6,[4.8,3.3,1.8,0.3,-1.2,-2.7,-4.2]],[19.7,[4.1,2.5,0.9,-0.7,-2.3,-3.9,-5.3]],[19.8,[3.7,2.0,0.4,-1.2,-2.8,-4.4]],
  [19.9,[4.4,2.6,0.8,-0.9,-2.5,-4.1,-5.6]],[20.0,[3.2,1.4,-0.3,-2.0,-3.6,1.9]],[20.1,[2.6,0.8,-1.0,-2.7,-4.4]],[20.2,[3.0,1.1,-0.6,-2.3,-3.9]],
  [20.3,[1.9,0.2,-1.5,-3.2,2.8]],[20.4,[2.3,0.5,-1.2,-2.8,-4.5]],[20.5,[1.6,-0.2,-1.9,-3.4]],[20.6,[1.2,-0.5,-2.4,0.9]]
];
const wettestInner = [
  [16.525,[2.1,-0.4,-2.6,-4.1,0.9]],[16.575,[2.9,0.6,-1.5,-3.3]],[16.625,[1.6,-0.9,-2.2,-3.9,3.4]],[16.675,[2.5,0.2,-1.8,-3.0,-4.6]],
  [16.725,[3.2,1.1,-0.6,-2.5,-3.7]],[16.775,[1.9,-0.3,-2.0,-4.2,3.6]],[16.825,[2.7,0.8,-1.2,-2.8,-3.5]],[16.875,[3.5,1.4,-0.5,-1.9,-4.0]],
  [16.925,[2.2,0.0,-2.4,-3.2,4.1]],[16.975,[3.0,0.9,-1.0,-2.7,-4.4]],[17.025,[1.8,-0.6,-1.7,-3.6,3.8]],[17.075,[2.6,0.4,-1.3,-2.3,-4.1]],
  [17.125,[3.3,1.2,-0.8,-3.0,-3.9]],[17.175,[2.0,-0.1,-2.1,-3.4,4.3]],[17.225,[2.8,0.7,-1.5,-2.6,-4.5]],[17.275,[3.6,1.5,-0.3,-2.0,-3.7]],
  [17.325,[2.3,0.3,-1.8,-3.1,-4.2,4.0]],[17.375,[3.1,1.0,-0.9,-2.4,-3.5]],[17.425,[1.9,-0.4,-1.6,-3.8,3.5]],[17.475,[2.7,0.8,-1.1,-2.9,-4.3]],
  [17.525,[3.4,1.3,-0.6,-2.2,-3.3,4.4]],[17.575,[2.1,0.1,-2.0,-3.5,-4.6]],[17.625,[3.0,0.6,-1.4,-2.7,-3.9]],[17.675,[2.4,-0.2,-1.8,-3.2,4.2]],
  [17.725,[3.7,1.6,-0.4,-2.5,-4.0]],[17.775,[2.6,0.5,-1.2,-3.0,-3.6]],[17.825,[3.2,1.1,-0.7,-2.1,-4.4,4.5]],[17.875,[2.0,-0.1,-1.9,-3.4,-2.7]],
  [17.925,[2.9,0.9,-1.0,-2.4,-4.1]],[17.975,[3.5,1.4,-0.5,-2.9,-3.7,4.1]],[18.025,[2.2,0.3,-1.6,-3.3,-4.5]],[18.075,[3.1,1.0,-1.1,-2.2,-3.9]],
  [18.125,[2.5,-0.3,-2.0,-3.6,4.3]],[18.175,[3.8,1.7,-0.2,-1.8,-4.2]],[18.225,[2.7,0.6,-1.3,-2.7,-3.4]],[18.275,[3.3,1.2,-0.8,-3.1,-4.6,4.6]],
  [18.325,[2.1,0.0,-1.7,-2.5,-3.8]],[18.375,[3.0,0.8,-1.2,-3.4,-4.3]],[18.425,[3.6,1.5,-0.4,-2.1,-3.6,4.2]],[18.475,[2.4,0.4,-1.9,-2.9,-4.0]],
  [18.525,[3.2,1.1,-0.9,-2.4,-3.5]],[18.575,[2.6,-0.2,-1.5,-3.3,-4.4,4.0]],[18.625,[3.4,1.3,-0.6,-2.0,-3.8]],[18.675,[2.2,0.5,-1.4,-2.8,-4.2]],
  [18.725,[3.0,0.9,-1.0,-3.2,3.9]],[18.775,[2.5,0.2,-1.8,-2.5,-3.9]],[18.825,[3.3,1.4,-0.5,-2.2,-4.3]],[18.875,[2.0,-0.1,-1.6,-3.0,-3.6,3.7]],
  [18.925,[2.8,0.7,-1.2,-2.6,-4.0]],[18.975,[3.5,1.2,-0.8,-2.0,-3.4]],[19.025,[2.3,0.3,-1.5,-3.1,-4.1]],[19.075,[3.0,1.0,-1.0,-2.4,3.8]],
  [19.125,[2.6,0.4,-1.9,-3.3,-3.8]],[19.175,[3.2,1.3,-0.6,-2.1,-4.0]],[19.225,[2.1,0.1,-1.4,-2.9]],[19.275,[2.8,0.8,-1.1,-2.5,-3.7]],
  [19.325,[2.4,0.2,-1.7,-3.2]],[19.375,[3.0,1.1,-0.7,-2.2,-3.5]],[19.425,[2.0,-0.2,-1.5,-2.8]],[19.475,[2.6,0.6,-1.2,-3.0]]
];
const wettestFitX = [12.2, 13, 14, 15, 16, 17, 18, 19, 20, 21.4];
const wettestFitMid = [0.55, 0.45, 0.35, 0.2, 0.05, 0.0, -0.05, -0.2, -0.65, -1.7];
const wettestFitUp = [1.9, 1.4, 0.9, 0.5, 0.25, 0.15, 0.1, 0.05, -0.05, -0.25];
const wettestFitLo = [-1.0, -0.6, -0.2, -0.1, -0.15, -0.15, -0.2, -0.45, -1.3, -3.0];

// ---- caption ----
const captionHead = 'Fig. 4.';
const captionLines = [
  'Partial effect of the Precipitation of Driest',
  'Quarter (a), Precipitation of Warmest Quarter (b)',
  'and Mean Temperature of Wettest Quarter (c) on',
  'the periodic annual volume increment of the oak',
  'stands'
];

const panels = [
  { tag: 'a)', obs: driestObs, core: driestCore.concat(driestInner), fx: driestFitX, mid: driestFitMid, up: driestFitUp, lo: driestFitLo,
    xTicks: driestTicks, minorStep: 2, title: 'Precipitation of Driest Quarter [mm]',
    box: { left: 65, top: 18, right: 477, bottom: 317 }, tagPos: [10, 25] },
  { tag: 'b)', obs: warmestObs, core: warmestCore.concat(warmestInner), fx: warmestFitX, mid: warmestFitMid, up: warmestFitUp, lo: warmestFitLo,
    xTicks: warmestTicks, minorStep: 10, title: 'Precipitation of Warmest Quarter [mm]',
    box: { left: 532, top: 18, right: 945, bottom: 317 }, tagPos: [493, 25] },
  { tag: 'c)', obs: wettestObs, core: wettestCore.concat(wettestInner), fx: wettestFitX, mid: wettestFitMid, up: wettestFitUp, lo: wettestFitLo,
    xTicks: wettestTicks, minorStep: 0.2, title: 'Mean Temperature of Wettest Quarter [°C]',
    box: { left: 63.5, top: 364, right: 480, bottom: 662 }, tagPos: [10, 371] }
];

const svg = d3.select('#fig');
const sans = '"Liberation Sans", Arial, sans-serif';
const serif = '"Liberation Serif", "Times New Roman", serif';

function drawPanel(p) {
  const b = p.box;
  const x = d3.scaleLinear().domain(d3.extent(p.xTicks)).range([b.left, b.right]);
  const y = d3.scaleLinear().domain([-25, 30]).range([b.bottom, b.top]);
  const g = svg.append('g');

  // faint grid
  g.append('g').selectAll('line').data(p.xTicks.slice(1, -1)).join('line')
    .attr('x1', d => x(d)).attr('x2', d => x(d)).attr('y1', b.top).attr('y2', b.bottom)
    .attr('stroke', '#e4e4e4').attr('stroke-width', 0.8).attr('stroke-dasharray', '1,1');
  g.append('g').selectAll('line').data(yTicks.slice(1, -1)).join('line')
    .attr('y1', d => y(d)).attr('y2', d => y(d)).attr('x1', b.left).attr('x2', b.right)
    .attr('stroke', '#e4e4e4').attr('stroke-width', 0.8).attr('stroke-dasharray', '1,1');

  // points
  const pts = p.obs.concat(p.core.flatMap(([xv, ys]) => ys.map(v => [xv, v])));
  g.append('g').selectAll('circle').data(pts).join('circle')
    .attr('cx', d => x(d[0])).attr('cy', d => y(d[1])).attr('r', 2.2)
    .attr('fill', 'none').attr('stroke', '#181818').attr('stroke-width', 1);

  // spline and band
  const rows = p.fx.map((xv, i) => ({ x: xv, mid: p.mid[i], up: p.up[i], lo: p.lo[i] }));
  const mk = key => d3.line().x(d => x(d.x)).y(d => y(d[key])).curve(d3.curveMonotoneX);
  ['up', 'lo'].forEach(k => g.append('path').datum(rows).attr('d', mk(k))
    .attr('fill', 'none').attr('stroke', '#9a9a9a').attr('stroke-width', 1).attr('stroke-dasharray', '3,2'));
  g.append('path').datum(rows).attr('d', mk('mid'))
    .attr('fill', 'none').attr('stroke', '#8c8c8c').attr('stroke-width', 1.3);

  // axes: major + minor ticks pointing inward on all sides
  const [x0, x1] = d3.extent(p.xTicks);
  const xMinor = d3.range(x0, x1 + p.minorStep / 2, p.minorStep).map(v => +v.toFixed(3));
  const yMinor = d3.range(-25, 31, 1);
  const style = sel => {
    sel.select('.domain').remove();
    sel.selectAll('line').attr('stroke', '#444');
    sel.selectAll('text').attr('font-family', sans).attr('font-size', 9.5).attr('fill', '#333');
  };
  const fmt = d => String(d);
  g.append('g').attr('transform', `translate(0,${b.bottom})`)
    .call(d3.axisBottom(x).tickValues(xMinor).tickSizeInner(-2).tickSizeOuter(0).tickFormat('')).call(style);
  g.append('g').attr('transform', `translate(0,${b.bottom})`)
    .call(d3.axisBottom(x).tickValues(p.xTicks).tickSizeInner(-4).tickSizeOuter(0).tickPadding(7).tickFormat(fmt)).call(style);
  g.append('g').attr('transform', `translate(0,${b.top})`)
    .call(d3.axisTop(x).tickValues(xMinor).tickSizeInner(-2).tickSizeOuter(0).tickFormat('')).call(style);
  g.append('g').attr('transform', `translate(${b.left},0)`)
    .call(d3.axisLeft(y).tickValues(yMinor).tickSizeInner(-2).tickSizeOuter(0).tickFormat('')).call(style);
  g.append('g').attr('transform', `translate(${b.left},0)`)
    .call(d3.axisLeft(y).tickValues(yTicks).tickSizeInner(-4).tickSizeOuter(0).tickPadding(5).tickFormat(fmt)).call(style);
  g.append('g').attr('transform', `translate(${b.right},0)`)
    .call(d3.axisRight(y).tickValues(yMinor).tickSizeInner(-2).tickSizeOuter(0).tickFormat('')).call(style);

  // frame
  g.append('rect').attr('x', b.left).attr('y', b.top)
    .attr('width', b.right - b.left).attr('height', b.bottom - b.top)
    .attr('fill', 'none').attr('stroke', '#4a4a4a').attr('stroke-width', 1.4);

  // titles
  g.append('text').attr('x', (b.left + b.right) / 2).attr('y', b.bottom + 33)
    .attr('text-anchor', 'middle').attr('font-family', sans).attr('font-size', 12).attr('fill', '#222')
    .text(p.title);
  g.append('text').attr('transform', `translate(${b.left - 29},${(b.top + b.bottom) / 2}) rotate(-90)`)
    .attr('text-anchor', 'middle').attr('font-family', sans).attr('font-size', 12).attr('fill', '#222')
    .text(yTitle);
  svg.append('text').attr('x', p.tagPos[0]).attr('y', p.tagPos[1])
    .attr('font-family', serif).attr('font-size', 17).attr('fill', '#111').text(p.tag);

  // legend
  const lg = g.append('g').attr('font-family', sans).attr('font-size', 10).attr('fill', '#222');
  const rowsY = [b.bottom - 33, b.bottom - 22.5, b.bottom - 12];
  lg.append('circle').attr('cx', b.right - 111).attr('cy', rowsY[0]).attr('r', 2.2)
    .attr('fill', 'none').attr('stroke', '#333').attr('stroke-width', 0.9);
  lg.append('line').attr('x1', b.right - 119).attr('x2', b.right - 104).attr('y1', rowsY[1]).attr('y2', rowsY[1])
    .attr('stroke', '#8c8c8c').attr('stroke-width', 1.3);
  lg.append('line').attr('x1', b.right - 119).attr('x2', b.right - 104).attr('y1', rowsY[2]).attr('y2', rowsY[2])
    .attr('stroke', '#9a9a9a').attr('stroke-width', 1).attr('stroke-dasharray', '3,2');
  lg.selectAll('text').data(legendLabels).join('text')
    .attr('x', b.right - 99).attr('y', (d, i) => rowsY[i]).attr('dy', '0.35em').text(d => d);
}

panels.forEach(drawPanel);

// caption
svg.append('text').attr('x', 582).attr('y', 568)
  .attr('font-family', serif).attr('font-size', 23.5).attr('font-weight', 'bold').attr('fill', '#111')
  .text(captionHead);
svg.append('g').selectAll('text').data(captionLines).join('text')
  .attr('x', 527).attr('y', (d, i) => 602 + i * 23.1)
  .attr('font-family', serif).attr('font-size', 22.9).attr('fill', '#111')
  .attr('word-spacing', (d, i) => i === 0 ? 9 : 0)
  .text(d => d);
</script>
</body>
</html>
